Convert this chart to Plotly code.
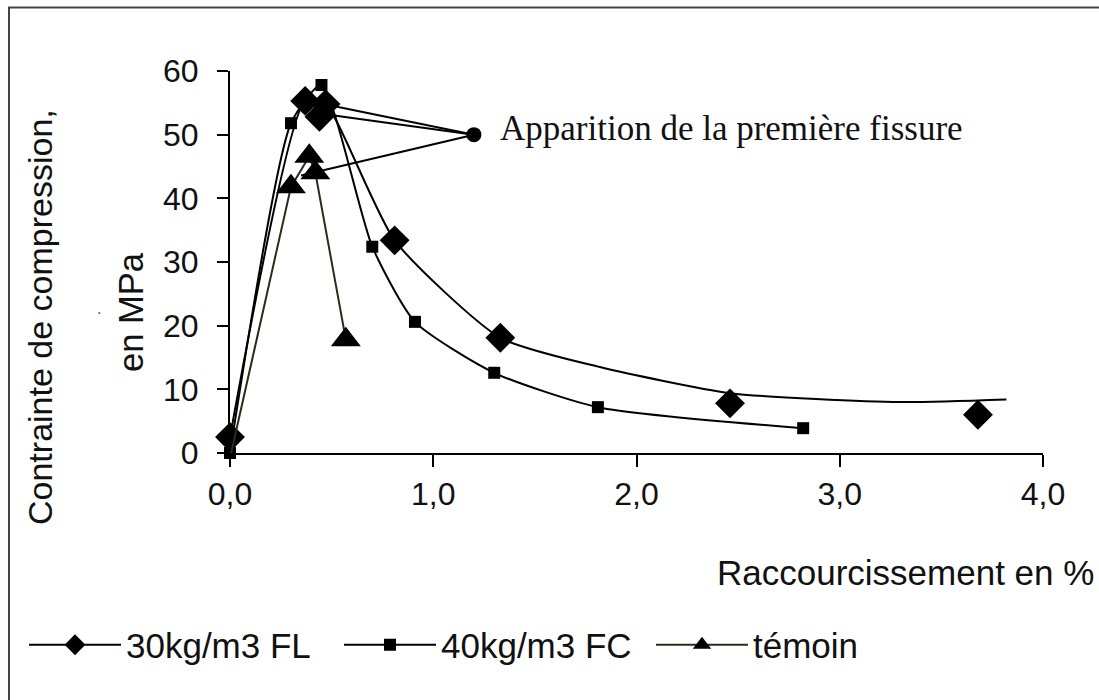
import plotly.graph_objects as go

# ---------------- data ----------------
fl_x = [0.00, 0.37, 0.47, 0.44, 0.81, 1.33, 2.46, 3.68]
fl_y = [2.5, 55.3, 54.8, 52.8, 33.4, 18.1, 7.8, 6.0]
# smoothed curve drawn for 30kg/m3 FL
fl_curve_x = [0.00, 0.37, 0.47, 0.81, 1.33, 1.82, 2.46, 3.30, 3.82]
fl_curve_y = [2.5, 55.3, 54.8, 33.4, 18.1, 13.5, 9.4, 8.0, 8.4]

fc_x = [0.00, 0.30, 0.45, 0.70, 0.91, 1.30, 1.81, 2.82]
fc_y = [0.0, 51.8, 57.8, 32.4, 20.6, 12.6, 7.2, 3.9]

tm_x = [0.00, 0.30, 0.39, 0.42, 0.57]
tm_y = [-0.8, 41.8, 46.6, 44.0, 17.8]

crack_label = "Apparition de la première fissure"
crack_x, crack_y = 1.20, 50.0
crack_targets_x = [0.37, 0.45, 0.35]
crack_targets_y = [55.4, 53.3, 43.6]

x_ticks = [0, 1, 2, 3, 4]
x_labels = ["0,0", "1,0", "2,0", "3,0", "4,0"]
y_ticks = [0, 10, 20, 30, 40, 50, 60]
y_labels = ["0", "10", "20", "30", "40", "50", "60"]

names = ["30kg/m3 FL", "40kg/m3 FC", "témoin"]

# ---------------- figure ----------------
SANS = "Liberation Sans, Arial, sans-serif"
SERIF = "Liberation Serif, Times New Roman, serif"
INK = "#111111"
W, H = 1099, 700
L, R, T, B = 230, 56, 71, 247
PW, PH = W - L - R, H - T - B


def px_x(p):
    return (p - L) / PW


def px_y(p):
    return (H - B - p) / PH


fig = go.Figure()

# FL smooth curve (line only)
fig.add_trace(go.Scatter(x=fl_curve_x, y=fl_curve_y, mode="lines",
                         line=dict(color="black", width=2, shape="spline", smoothing=0.6),
                         showlegend=False, hoverinfo="skip", cliponaxis=False))
# FL markers
fig.add_trace(go.Scatter(x=fl_x, y=fl_y, mode="markers",
                         marker=dict(symbol="diamond", size=23, color="black"),
                         showlegend=False, cliponaxis=False))
# FC
fig.add_trace(go.Scatter(x=fc_x, y=fc_y, mode="lines+markers",
                         line=dict(color="black", width=2, shape="spline", smoothing=0.6),
                         marker=dict(symbol="square", size=12, color="black"),
                         name=names[1], legend="legend2", cliponaxis=False))
# témoin
fig.add_trace(go.Scatter(x=tm_x, y=tm_y, mode="lines+markers",
                         line=dict(color="#2b2b1a", width=2),
                         marker=dict(symbol="triangle-up", size=26, color="black"),
                         name=names[2], legend="legend3", cliponaxis=False))
# legend entry for FL (line + diamond)
fig.add_trace(go.Scatter(x=[None], y=[None], mode="lines+markers",
                         line=dict(color="black", width=2),
                         marker=dict(symbol="diamond", size=23, color="black"),
                         name=names[0], legend="legend"))

# first-crack leader lines
for tx, ty in zip(crack_targets_x, crack_targets_y):
    fig.add_shape(type="line", xref="x", yref="y", x0=crack_x, y0=crack_y, x1=tx, y1=ty,
                  line=dict(color="black", width=2), layer="above")
fig.add_trace(go.Scatter(x=[crack_x], y=[crack_y], mode="markers",
                         marker=dict(symbol="circle", size=15, color="black"),
                         showlegend=False, cliponaxis=False))

annotations = [
    dict(text=crack_label, x=1.32, y=50.9, xref="x", yref="y", xanchor="left", yanchor="middle",
         showarrow=False, font=dict(family=SERIF, size=35, color=INK)),
    dict(text="Contrainte de compression,", x=px_x(40), y=px_y(317), xref="paper", yref="paper",
         textangle=-90, showarrow=False, xanchor="center", yanchor="middle",
         font=dict(family=SANS, size=34, color=INK)),
    dict(text="en MPa", x=px_x(131), y=px_y(312), xref="paper", yref="paper",
         textangle=-90, showarrow=False, xanchor="center", yanchor="middle",
         font=dict(family=SANS, size=34.5, color=INK)),
    dict(text=".", x=px_x(95), y=px_y(313), xref="paper", yref="paper",
         textangle=-90, showarrow=False, xanchor="center", yanchor="middle",
         font=dict(family=SANS, size=14, color=INK)),
    dict(text="Raccourcissement en %", x=px_x(1096), y=px_y(572), xref="paper", yref="paper",
         showarrow=False, xanchor="right", yanchor="middle",
         font=dict(family=SANS, size=35, color=INK)),
]

# outer frame (extends past the right and bottom edges)
fig.add_shape(type="rect", xref="paper", yref="paper",
              x0=px_x(9), x1=px_x(1120), y0=px_y(720), y1=px_y(7.5),
              line=dict(color="#444444", width=2), fillcolor="rgba(0,0,0,0)", layer="below")

axis_common = dict(showline=True, linecolor="black", linewidth=2, ticks="outside",
                   tickcolor="black", tickwidth=2, showgrid=False, zeroline=False,
                   tickfont=dict(family=SANS, size=32, color=INK))

legend_common = dict(orientation="h", xanchor="left", yanchor="middle", itemwidth=92,
                     bgcolor="rgba(0,0,0,0)", font=dict(family=SANS, size=35, color=INK),
                     xref="paper", yref="paper")

fig.update_layout(
    width=W, height=H,
    margin=dict(l=L, r=R, t=T, b=B, pad=0),
    paper_bgcolor="white", plot_bgcolor="white",
    xaxis=dict(range=[0, 4], tickvals=x_ticks, ticktext=x_labels, ticklen=12,
               ticklabelstandoff=0, **axis_common),
    yaxis=dict(range=[0, 60], tickvals=y_ticks, ticktext=y_labels, ticklen=11,
               ticklabelstandoff=12, **axis_common),
    annotations=annotations,
    legend=dict(x=px_x(24), y=px_y(645), **legend_common),
    legend2=dict(x=px_x(339), y=px_y(645), **legend_common),
    legend3=dict(x=px_x(651), y=px_y(645), **legend_common),
)

fig.write_html("out.html")
